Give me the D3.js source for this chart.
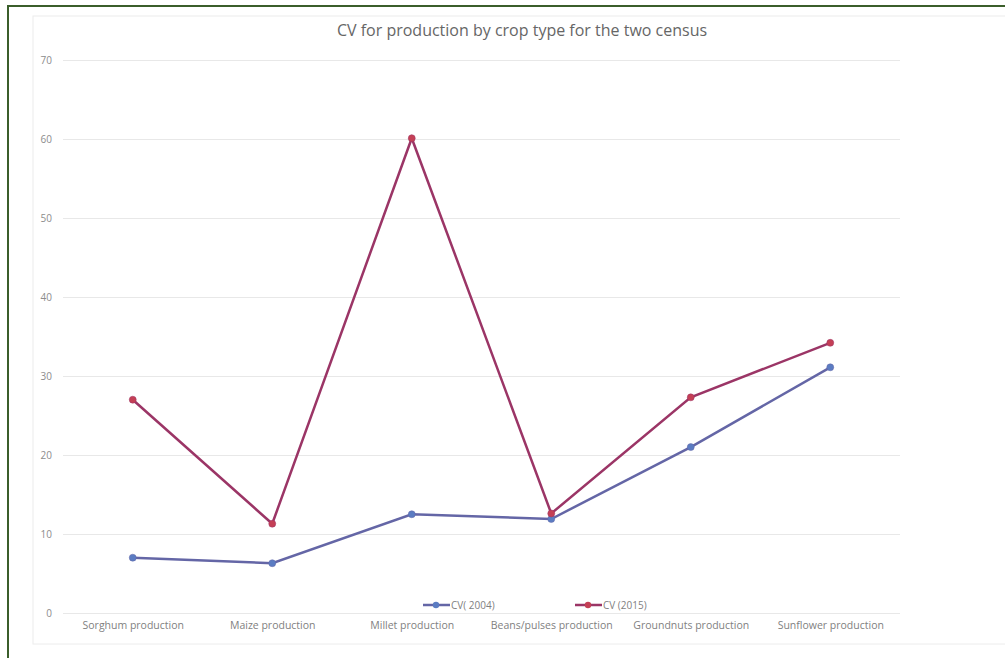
<!DOCTYPE html>
<html>
<head>
<meta charset="utf-8">
<script src="https://d3js.org/d3.v7.min.js"></script>
<style>
  body { margin: 0; background: #fff; }
  svg text { font-family: "Open Sans", sans-serif; }
</style>
</head>
<body>
<div id="line_chart"></div>
<script>
var categories = ["Sorghum production", "Maize production", "Millet production",
                  "Beans/pulses production", "Groundnuts production", "Sunflower production"];
var cv2004 = [7.0, 6.3, 12.5, 11.9, 21.0, 31.1];
var cv2015 = [27.0, 11.3, 60.1, 12.6, 27.3, 34.2];
var yTicks = [0, 10, 20, 30, 40, 50, 60, 70];
var seriesNames = ["CV( 2004)", "CV (2015)"];

var w = 1005, h = 658;
var svg = d3.select("#line_chart").append("svg")
  .attr("width", w).attr("height", h);

// outer green frame
svg.append("rect")
  .attr("x", 8).attr("y", 6).attr("width", 1010).attr("height", 700)
  .style("fill", "none").style("stroke", "#3b5e2b").style("stroke-width", 2);

// chart area frame
svg.append("rect")
  .attr("x", 33).attr("y", 16).attr("width", 1000).attr("height", 628)
  .style("fill", "none").style("stroke", "#ececec").style("stroke-width", 1);

var x = d3.scalePoint().domain(categories).range([63, 900]).padding(0.5);
var y = d3.scaleLinear().domain([0, 70]).range([613, 60]);

// gridlines
svg.append("g").selectAll("line")
  .data(yTicks).join("line")
  .attr("x1", 63).attr("x2", 900)
  .attr("y1", function(d) { return y(d) + 0.5; })
  .attr("y2", function(d) { return y(d) + 0.5; })
  .style("stroke", "#e8e8e8").style("stroke-width", 1);

var yAxis = d3.axisLeft(y).tickValues(yTicks).tickSize(0).tickPadding(0);
svg.append("g")
  .attr("transform", "translate(52,0)")
  .call(yAxis)
  .call(function(g) { g.select(".domain").remove(); })
  .selectAll("text")
  .attr("font-size", "10px").attr("fill", "#8c8c8c")
  .attr("font-family", "Open Sans");

var xAxis = d3.axisBottom(x).tickSize(0).tickPadding(0);
svg.append("g")
  .attr("transform", "translate(0,622)")
  .call(xAxis)
  .call(function(g) { g.select(".domain").remove(); })
  .selectAll("text")
  .attr("font-size", "10.5px").attr("fill", "#7f7f7f")
  .attr("font-family", "Open Sans");

var series = [
  { name: seriesNames[0], values: cv2004, line: "#6466a6", dot: "#5b7cc2" },
  { name: seriesNames[1], values: cv2015, line: "#9b3566", dot: "#c43f55" }
];

var chartLine = d3.line()
  .x(function(d, i) { return x(categories[i]); })
  .y(function(d) { return y(d); });

series.forEach(function(s) {
  svg.append("path")
    .datum(s.values)
    .attr("d", chartLine)
    .style("fill", "none")
    .style("stroke", s.line)
    .style("stroke-width", 2.5);
  svg.append("g").selectAll("circle")
    .data(s.values).join("circle")
    .attr("cx", function(d, i) { return x(categories[i]); })
    .attr("cy", function(d) { return y(d); })
    .attr("r", 3.5)
    .style("fill", s.dot)
    .style("stroke", s.line)
    .style("stroke-width", 0.5);
});

// legend
var legend = svg.append("g").attr("transform", "translate(423,605)");
series.forEach(function(s, i) {
  var g = legend.append("g").attr("transform", "translate(" + (i * 152) + ",0)");
  g.append("line").attr("x1", 0).attr("x2", 27).attr("y1", 0).attr("y2", 0)
    .style("stroke", s.line).style("stroke-width", 2.5);
  g.append("circle").attr("cx", 13).attr("cy", 0).attr("r", 3.2).style("fill", s.dot);
  g.append("text").attr("x", 28).attr("y", 3.5)
    .attr("font-size", "10px").attr("fill", "#7f7f7f")
    .text(s.name);
});

svg.append("text")
  .attr("x", 522).attr("y", 36)
  .attr("text-anchor", "middle")
  .attr("font-size", "16px")
  .attr("fill", "#666666")
  .text("CV for production by crop type for the two census");
</script>
</body>
</html>
